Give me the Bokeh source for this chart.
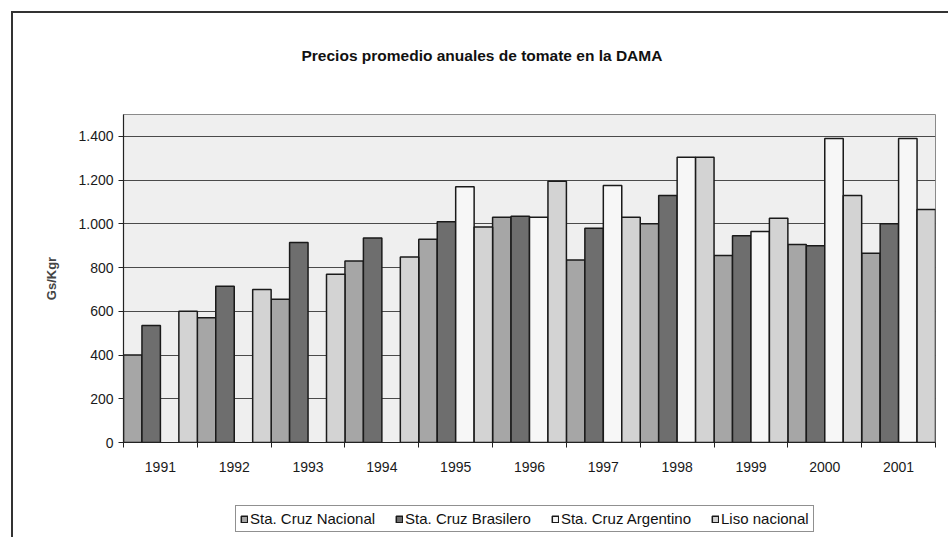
from bokeh.plotting import figure
from bokeh.layouts import column
from bokeh.models import (Range1d, FixedTicker, Legend, LegendItem, Title,
                          ColumnDataSource)
from bokeh.transform import dodge
from bokeh.embed import file_html
from bokeh.resources import INLINE

# ---------------- data ----------------
years = ["1991", "1992", "1993", "1994", "1995", "1996",
         "1997", "1998", "1999", "2000", "2001"]
nan = float("nan")
sta_cruz_nacional = [400, 570, 655, 830, 930, 1030, 835, 1000, 855, 905, 865]
sta_cruz_brasilero = [535, 715, 915, 935, 1010, 1035, 980, 1130, 945, 900, 1000]
sta_cruz_argentino = [nan, nan, nan, nan, 1170, 1030, 1175, 1305, 965, 1390, 1390]
liso_nacional = [600, 700, 770, 848, 985, 1195, 1030, 1305, 1025, 1130, 1065]

series_names = ["Sta. Cruz Nacional", "Sta. Cruz Brasilero",
                "Sta. Cruz Argentino", "Liso nacional"]
series_colors = ["#a6a6a6", "#6e6e6e", "#f7f7f7", "#d3d3d3"]

y_ticks = [0, 200, 400, 600, 800, 1000, 1200, 1400]
y_tick_labels = ["0", "200", "400", "600", "800", "1.000", "1.200", "1.400"]

chart_title = "Precios promedio anuales de tomate en la DAMA"
y_title = "Gs/Kgr"
FONT = "Liberation Sans"

# ---------------- main chart ----------------
n = len(years)
idx = list(range(n))
source = ColumnDataSource(dict(
    x=idx,
    nac=sta_cruz_nacional,
    bra=sta_cruz_brasilero,
    arg=sta_cruz_argentino,
    liso=liso_nacional,
))

p = figure(frame_width=812, frame_height=328,
           x_range=Range1d(0, n), y_range=Range1d(0, 1500),
           output_backend="svg", toolbar_location=None,
           min_border_left=110, min_border_right=13,
           min_border_top=101, min_border_bottom=50)

p.background_fill_color = "#efefef"
p.border_fill_color = "white"
p.outline_line_color = "#8a8a8a"
p.outline_line_width = 1

cols = ["nac", "bra", "arg", "liso"]
bw = 1.0 / len(cols)
for j, (c, color) in enumerate(zip(cols, series_colors)):
    p.vbar(x=dodge("x", bw / 2 + bw * j), top=c, width=bw, bottom=0,
           source=source, fill_color=color,
           line_color="#1a1a1a", line_width=1.5)

# x axis: labels centred in categories, ticks at category boundaries
xt = FixedTicker(ticks=[i + 0.5 for i in idx], minor_ticks=list(range(n + 1)))
p.xaxis.ticker = xt
p.xaxis.major_label_overrides = {i + 0.5: years[i] for i in idx}
p.xaxis.major_tick_out = 0
p.xaxis.major_tick_in = 0
p.xaxis.minor_tick_out = 5
p.xaxis.minor_tick_in = 0
p.xaxis.minor_tick_line_color = "#222222"
p.xaxis.major_label_standoff = 14

# y axis
p.yaxis.ticker = FixedTicker(ticks=y_ticks)
p.yaxis.major_label_overrides = {t: l for t, l in zip(y_ticks, y_tick_labels)}
p.yaxis.major_tick_out = 5
p.yaxis.major_tick_in = 0
p.yaxis.minor_tick_line_color = None
p.yaxis.major_label_standoff = 5
p.yaxis.axis_label = y_title
p.yaxis.axis_label_text_font_style = "bold"
p.yaxis.axis_label_text_font_size = "13px"
p.yaxis.axis_label_text_font = FONT
p.yaxis.axis_label_standoff = 16

for ax in (p.xaxis, p.yaxis):
    ax.axis_line_color = "#222222"
    ax.axis_line_width = 1.2
    ax.major_tick_line_color = "#222222"
    ax.major_label_text_font = FONT
    ax.major_label_text_font_size = "14px"
    ax.major_label_text_color = "#1a1a1a"

p.xgrid.visible = False
p.ygrid.grid_line_color = "#4a4a4a"
p.ygrid.grid_line_width = 1

# title: a spacer keeps it well above the plot area, as in the original
p.add_layout(Title(text="\u00a0", text_font_size="10px", standoff=38,
                   vertical_align="bottom"), "above")
p.add_layout(Title(text=chart_title, align="left", offset=178, standoff=0,
                   vertical_align="bottom", text_font=FONT,
                   text_font_size="15.5px", text_font_style="bold",
                   text_color="#111111"), "above")

# ---------------- legend strip ----------------
pl = figure(frame_width=812, frame_height=45,
            x_range=Range1d(-1000, -999), y_range=Range1d(0, 1),
            x_axis_type=None, y_axis_type=None,
            output_backend="svg", toolbar_location=None,
            min_border_left=110, min_border_right=13,
            min_border_top=0, min_border_bottom=0)
pl.background_fill_color = "white"
pl.border_fill_color = "white"
pl.outline_line_color = None
pl.grid.visible = False

# same series, hidden here: they only provide the legend swatches
legend_renderers = []
for c, color in zip(cols, series_colors):
    r = pl.vbar(x="x", top=c, width=bw, bottom=0, source=source,
                fill_color=color, line_color="#1a1a1a", line_width=1.5,
                visible=False)
    legend_renderers.append(r)

legend = Legend(items=[LegendItem(label=nm, renderers=[r])
                       for nm, r in zip(series_names, legend_renderers)],
                orientation="horizontal", location=(112, 5),
                click_policy="none",
                border_line_color="#222222", border_line_width=1,
                background_fill_color="white", background_fill_alpha=1,
                label_text_font=FONT, label_text_font_size="15px",
                label_text_color="#111111", label_height=17,
                glyph_width=8, glyph_height=8, label_standoff=2,
                spacing=20, padding=4, margin=0)
pl.add_layout(legend)

layout = column(p, pl, spacing=0)
layout.styles = {"margin-left": "11px", "margin-top": "11px",
                 "border-left": "2px solid #333333",
                 "border-top": "2px solid #333333"}

open("out.html", "w").write(file_html(layout, INLINE))
